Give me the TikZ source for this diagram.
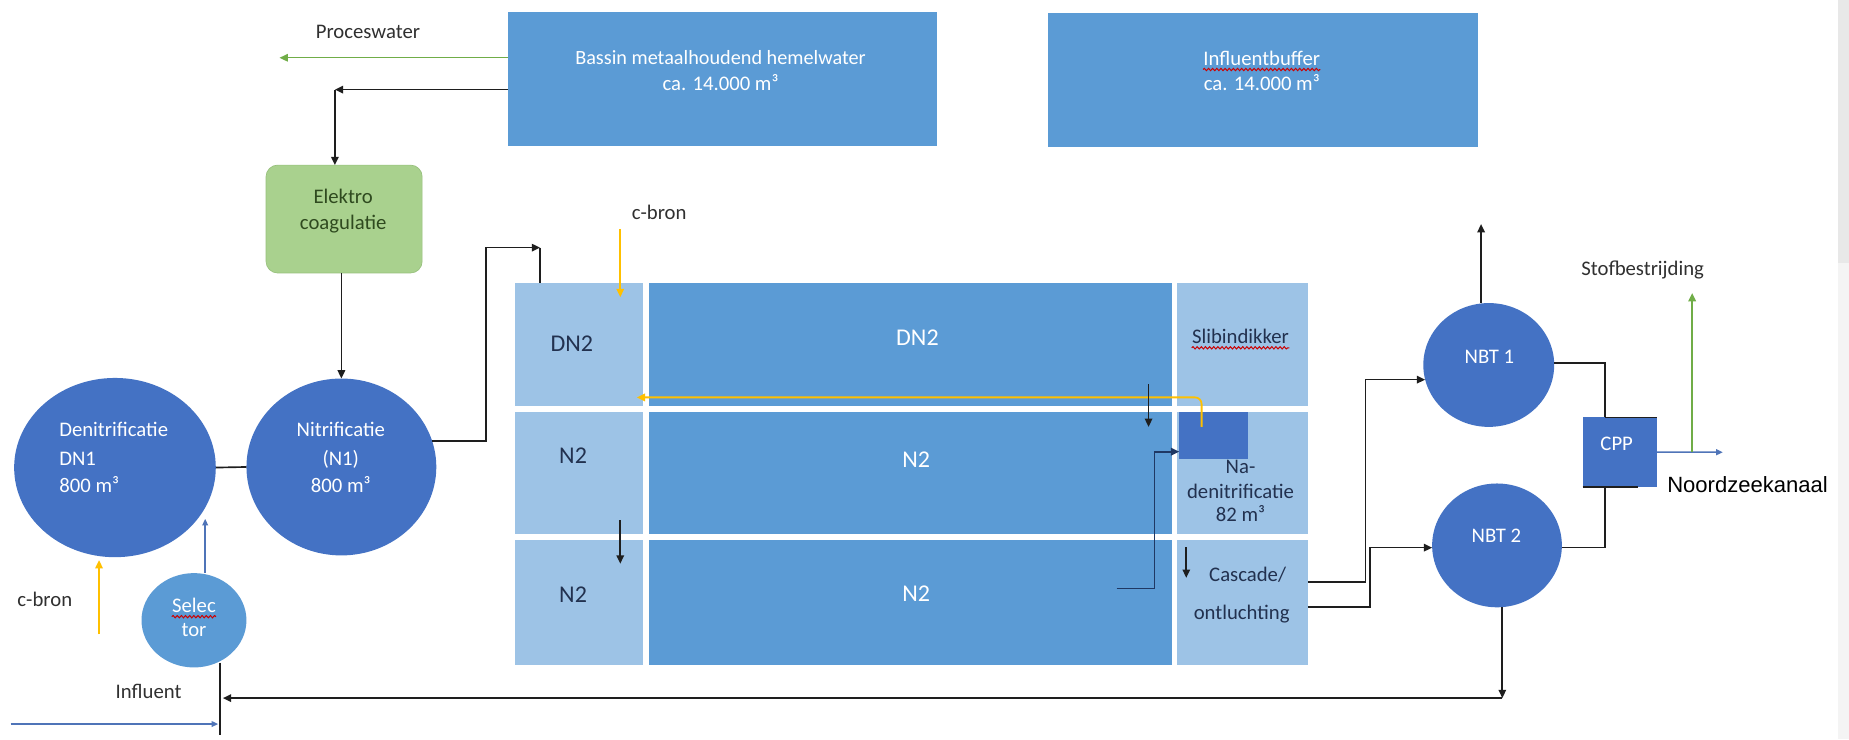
\documentclass[tikz,border=0pt]{standalone}
\usepackage{fontspec}
\setmainfont{Carlito}
\newfontfamily\arialf{Liberation Sans}
\usetikzlibrary{arrows.meta,shapes.geometric,decorations.pathmorphing,fit}
\definecolor{cdark}{HTML}{4472C4}
\definecolor{cmid}{HTML}{5B9BD5}
\definecolor{clight}{HTML}{9DC3E6}
\definecolor{cgreenbox}{HTML}{A9D18E}
\definecolor{cgreenline}{HTML}{97C07C}
\definecolor{cgreentext}{HTML}{2F4A1F}
\definecolor{cnavytext}{HTML}{22314F}
\definecolor{cyel}{HTML}{FFC000}
\definecolor{cgarrow}{HTML}{70AD47}
\definecolor{cblueline}{HTML}{4F74B8}
\definecolor{cline}{HTML}{1E1E1E}
\definecolor{cnavy}{HTML}{1F3864}
\definecolor{ctxt}{HTML}{303030}
\newcommand{\pxu}{0.025cm}
\begin{document}
\begin{tikzpicture}[x=0.025cm,y=-0.025cm,
  rbox/.style={inner sep=0, outer sep=0},
  lbox/.style={rbox, fill=clight},
  mbox/.style={rbox, fill=cmid},
  circ/.style={ellipse, inner sep=0, outer sep=0, fill=cdark},
  t/.style={inner sep=0, text height=8.5pt, text depth=2.2pt, font=\fontsize{12.5}{15}\selectfont, text=ctxt},
  tw/.style={t, text=white},
  tn/.style={t, text=cnavytext},
  tbig/.style={inner sep=0, text height=9.9pt, text depth=2.6pt, font=\fontsize{14.5}{17}\selectfont},
  tip/.style={-{Triangle[length=5pt,width=4.5pt]}},
  ln/.style={draw=cline, line width=1pt},
  arr/.style={ln, tip},
  yarr/.style={draw=cyel, line width=1.1pt, tip},
  garr/.style={draw=cgarrow, line width=1.1pt, tip},
  garrthin/.style={draw=cgarrow, line width=0.8pt, tip},
  barr/.style={draw=cblueline, line width=0.9pt, -{Triangle[length=4pt,width=3.5pt]}},
  navyarr/.style={draw=cnavy, line width=1.1pt, tip},
  wavy/.style={draw=red!80!black, line width=0.6pt, decorate, decoration={snake, amplitude=0.7pt, segment length=2.5pt}}
]
\useasboundingbox (0,0) rectangle (1568,627);
\fill[white] (0,0) rectangle (1568,627);
\fill[gray!18] (1559,0) rectangle (1568,223);
\fill[gray!9] (1559,223) rectangle (1568,627);

% top boxes
\node[mbox, fit={(431,10.5)(795,123.5)}] (bassin) {};
\node[mbox, fit={(889,11)(1253,124.5)}] (buffer) {};
\node[rbox, fit={(225.6,140)(358,231.5)}, fill=cgreenbox, draw=cgreenline, rounded corners=7pt] (elektro) {};

% basin block
\node[lbox, fit={(437,240)(545,344)}] (dnL) {};
\node[mbox, fit={(550,240)(994,344)}] (dnM) {};
\node[lbox, fit={(998,240)(1109,344)}] (slib) {};
\node[lbox, fit={(437,349)(545,453)}] (nL) {};
\node[mbox, fit={(550,349)(994,453)}] (nM) {};
\node[lbox, fit={(998,349)(1109,453)}] (nadn) {};
\node[lbox, fit={(437,458)(545,564)}] (n3L) {};
\node[mbox, fit={(550,458)(994,564)}] (n3M) {};
\node[lbox, fit={(998,458)(1109,564)}] (casc) {};
\node[rbox, fit={(1000,349)(1058,389)}, fill=cdark] (sq) {};
\node[rbox, fit={(1342,354)(1405,413)}, fill=cdark] (cpp) {};

% circles
\node[circ, minimum width=171*\pxu, minimum height=152*\pxu] (dn1) at (97.5,396.5) {};
\node[circ, minimum width=161*\pxu, minimum height=150*\pxu] (n1) at (289.5,396) {};
\node[circ, fill=cmid, minimum width=89*\pxu, minimum height=80*\pxu] (sel) at (164.5,526) {};
\node[circ, minimum width=111*\pxu, minimum height=105*\pxu] (nbt1) at (1262.5,309.5) {};
\node[circ, minimum width=110*\pxu, minimum height=105*\pxu] (nbt2) at (1269.5,462.5) {};

% texts
\node[t] (tProc) at (312,28) {Proceswater};
\node[tw, font=\fontsize{12.2}{15}\selectfont] (tBas1) at (611,50.5) {Bassin metaalhoudend hemelwater};
\node[tw] (tBas2) at (611,72) {ca. 14.000 m³};
\node[tw] (tInf1) at (1070,51) {Influentbuffer};
\node[tw] (tInf2) at (1070,72) {ca. 14.000 m³};
\draw[wavy] ([yshift=-2.5pt]tInf1.base west) -- ([yshift=-2.5pt]tInf1.base east);
\node[t, text=cgreentext] (tEl1) at (291,168) {Elektro};
\node[t, text=cgreentext] (tEl2) at (291,190) {coagulatie};
\node[t] (tCb1) at (559,182) {c-bron};
\node[tw, anchor=west] (tD1) at (50,366) {Denitrificatie};
\node[tw, anchor=west] (tD2) at (50,390) {DN1};
\node[tw, anchor=west] (tD3) at (50,413) {800 m³};
\node[tw] (tN1) at (289,366) {Nitrificatie};
\node[tw] (tN2) at (289,390) {(N1)};
\node[tw] (tN3) at (289,413) {800 m³};
\node[tw] (tS1) at (164.5,515) {Selec};
\draw[wavy] ([yshift=-2.5pt]tS1.base west) -- ([yshift=-2.5pt]tS1.base east);
\node[tw] (tS2) at (164.5,535) {tor};
\node[t] (tCb2) at (38,510) {c-bron};
\node[t] (tInfl) at (126,588) {Influent};
\node[tbig, text=cnavytext] (tDNL) at (485,293) {DN2};
\node[tbig, text=white] (tDNM) at (778,288) {DN2};
\node[tn] (tSlib) at (1052,287) {Slibindikker};
\draw[wavy] ([yshift=-2.5pt]tSlib.base west) -- ([yshift=-2.5pt]tSlib.base east);
\node[tbig, text=cnavytext] (tNL) at (486,388) {N2};
\node[tbig, text=white] (tNM) at (777,391) {N2};
\node[tn] (tNa1) at (1052,397) {Na-};
\node[tn] (tNa2) at (1052,418) {denitrificatie};
\node[tn] (tNa3) at (1052,438) {82 m³};
\node[tbig, text=cnavytext] (tN3L) at (486,506) {N2};
\node[tbig, text=white] (tN3M) at (777,505) {N2};
\node[tn] (tCa1) at (1058,489) {Cascade/};
\node[tn] (tCa2) at (1053,521) {ontluchting};
\node[tw] (tNBT1) at (1263,304) {NBT 1};
\node[tw] (tNBT2) at (1269,456) {NBT 2};
\node[tw] (tCPP) at (1371,378) {CPP};
\node[t] (tStof) at (1393,229) {Stofbestrijding};
\node[inner sep=0, text height=9.6pt, text depth=0pt, font=\arialf\fontsize{13.3}{16}\selectfont, text=black] (tNZK) at (1482,411) {Noordzeekanaal};

% connectors: top
\coordinate (pw) at (237,49);
\draw[garrthin] (bassin.west |- pw) -- (pw);
\coordinate (c1) at (284,76);
\draw[arr] (bassin.west |- c1) -- (c1);
\draw[arr] (c1) -- (c1 |- elektro.north);
\draw[arr] (elektro.south -| n1.north) -- (n1.north);
\draw[ln] (dn1.east) -- (n1.west);
\coordinate (k1) at (412,210);
\coordinate (k2) at (458,210);
\draw[arr] (n1.16) -- (n1.16 -| k1) -- (k1) -- (k2);
\draw[ln] (k2) -- (k2 |- dnL.north);

% c-bron top
\coordinate (cy1) at (526,194);
\coordinate (cy2) at (526,252);
\draw[yarr] (cy1) -- (cy2);

% recirculation
\coordinate (ya) at (1019,362);
\coordinate (yb) at (540,337);
\draw[yarr, rounded corners=4pt] (ya) |- (yb);

% small arrows in basins
\coordinate (m1a) at (974,326);
\coordinate (m1b) at (974,362);
\draw[arr] (m1a) -- (m1b);
\coordinate (m2a) at (526,441);
\coordinate (m2b) at (526,478);
\draw[arr] (m2a) -- (m2b);
\coordinate (m3a) at (1006,464);
\coordinate (m3b) at (1006,490);
\draw[arr] (m3a) -- (m3b);
\coordinate (nv1) at (947,499);
\coordinate (nv2) at (979,383);
\draw[navyarr] (nv1) -| (nv2) -- (nv2 -| sq.west);

% cascade to NBT
\coordinate (o1) at (1158,493.5);
\coordinate (o2) at (1162,515);
\draw[arr] (casc.east |- o1) -- (o1) |- (nbt1.193);
\draw[arr] (casc.east |- o2) -- (o2) |- (nbt2.182);

% NBT outputs
\coordinate (u1) at (1256,190);
\draw[arr] (u1 |- nbt1.north) -- (u1);
\coordinate (kx) at (1361,0);
\coordinate (kb) at (1389,0);
\draw[ln] (nbt1.2) -| (kx |- cpp.north);
\draw[ln] (nbt2.358) -| (kx |- cpp.south);
\draw[ln] (kx |- cpp.north) -- (cpp.north east);
\draw[ln] (cpp.south west) -- (kb |- cpp.south);
\coordinate (nz) at (1461,383.5);
\draw[barr] (cpp.east) -- (nz);
\coordinate (sb) at (1435,248.5);
\draw[garr] (sb |- cpp.east) -- (sb);

% return line
\coordinate (bt) at (1274,592);
\coordinate (bl) at (189,592);
\draw[arr] (bt |- nbt2.south) -- (bt);
\draw[arr] (bt) -- (bl);
\coordinate (vt) at (186.5,562);
\coordinate (vb) at (186.5,623);
\draw[ln, line width=1.6pt] (vt) -- (vb);
\coordinate (ia) at (9,614);
\coordinate (ib) at (185,614);
\draw[barr] (ia) -- (ib);
\coordinate (s2) at (174,440);
\draw[barr] (s2 |- sel.north) -- (s2);
\coordinate (cl1) at (84,538);
\coordinate (cl2) at (84,475);
\draw[yarr] (cl1) -- (cl2);
\end{tikzpicture}
\end{document}
